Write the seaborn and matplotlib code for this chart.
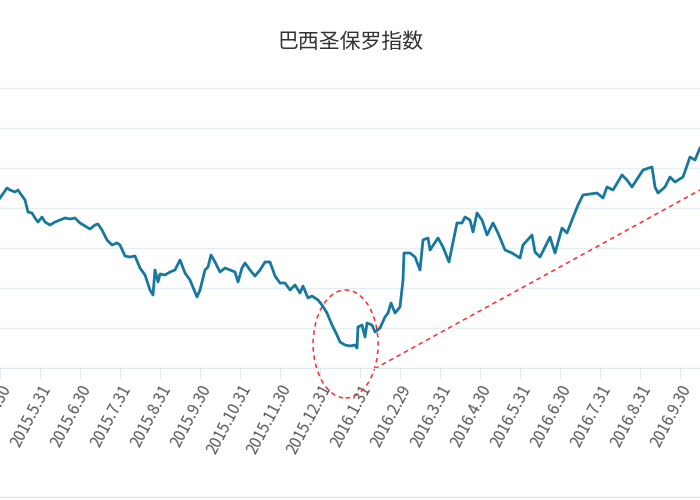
import numpy as np
import pandas as pd
import seaborn as sns
import matplotlib as mpl
from matplotlib import pyplot as plt
from matplotlib import font_manager
from matplotlib.patches import Ellipse

cjk = [f.name for f in font_manager.fontManager.ttflist if 'CJK' in f.name]
mpl.rcParams['font.family'] = ['Noto Sans CJK SC'] + cjk + ['DejaVu Sans']

# months since 2015.4.30 and index level
months = [0.0, 0.175, 0.25, 0.375, 0.45, 0.5, 0.625, 0.7, 0.8, 0.875, 0.95, 1.05, 1.125, 1.25, 1.375,
          1.5, 1.625, 1.75, 1.875, 2.0, 2.125, 2.25, 2.375, 2.45, 2.55, 2.675, 2.8, 2.925, 3.0, 3.125,
          3.25, 3.375, 3.5, 3.625, 3.75, 3.825, 3.875, 3.95, 4.0, 4.125, 4.25, 4.375, 4.5, 4.625, 4.75,
          4.875, 4.925, 5.0, 5.125, 5.2, 5.275, 5.375, 5.5, 5.625, 5.75, 5.875, 5.95, 6.05, 6.125, 6.25,
          6.375, 6.5, 6.625, 6.75, 6.875, 7.0, 7.125, 7.25, 7.375, 7.5, 7.575, 7.7, 7.8, 7.95, 8.05,
          8.175, 8.3, 8.425, 8.5, 8.625, 8.75, 8.875, 8.925, 8.95, 9.05, 9.125, 9.175, 9.3, 9.375, 9.5,
          9.625, 9.7, 9.775, 9.875, 10.0, 10.075, 10.1, 10.25, 10.375, 10.5, 10.575, 10.7, 10.75, 10.95,
          11.075, 11.225, 11.3, 11.425, 11.55, 11.625, 11.75, 11.825, 11.925, 12.05, 12.175, 12.325,
          12.45, 12.625, 12.8, 13.0, 13.075, 13.3, 13.375, 13.5, 13.75, 13.875, 14.05, 14.175, 14.3,
          14.45, 14.575, 14.925, 15.075, 15.175, 15.325, 15.55, 15.675, 15.8, 16.075, 16.3, 16.375,
          16.45, 16.625, 16.75, 16.875, 17.075, 17.25, 17.375, 17.5]
index = [56250, 57500, 57250, 57000, 57250, 56875, 56000, 54500, 54375, 53750, 53250, 53875, 53250, 52875, 53250,
         53500, 53750, 53625, 53750, 53125, 52750, 52375, 52875, 53000, 52250, 51000, 50375, 50625, 50375, 49000,
         48875, 49000, 47500, 46625, 44750, 44125, 47250, 45750, 46750, 46625, 47000, 47250, 48500, 46875, 46000,
         44500, 43875, 44750, 47250, 47625, 49125, 48250, 47000, 47500, 47250, 47000, 45750, 47500, 48125, 47250,
         46500, 47250, 48250, 48250, 46500, 45625, 45625, 44750, 45375, 44375, 45250, 43750, 44000, 43500, 42875,
         41875, 40375, 39125, 38250, 37875, 37750, 37875, 37500, 40125, 40375, 38875, 40625, 40375, 39500, 40000,
         41375, 41875, 43125, 41875, 42625, 46000, 49375, 49375, 48875, 47250, 51000, 51250, 49750, 51250,
         50125, 48250, 50125, 53125, 53125, 53875, 53500, 52000, 54375, 53500, 51625, 53125,
         51875, 49750, 49375, 48750, 50375, 51625, 49500, 48875, 51375, 49375, 52500, 51875, 53500,
         55375, 56625, 56875, 56250, 57625, 57250, 59125, 58500, 57625, 59750, 60125, 57625,
         56875, 57625, 58875, 58250, 58875, 61375, 61000, 62500]

tick_labels = ['2015.4.30', '2015.5.31', '2015.6.30', '2015.7.31', '2015.8.31', '2015.9.30',
               '2015.10.31', '2015.11.30', '2015.12.31', '2016.1.31', '2016.2.29', '2016.3.31',
               '2016.4.30', '2016.5.31', '2016.6.30', '2016.7.31', '2016.8.31', '2016.9.30', '2016.10.31']

trend_x = [8.625, 17.5]
trend_y = [32875, 57250]

df = pd.DataFrame({'month': months, 'index': index})

fig = plt.figure(figsize=(7, 5), dpi=100)
ax = fig.add_axes([0, 132 / 500, 1, 281 / 500])

sns.lineplot(data=df, x='month', y='index', color='#16789f', lw=2, ax=ax)
ax.plot(trend_x, trend_y, color='#ff2a2a', ls=(0, (3, 2.5)), lw=1.1)
ax.add_patch(Ellipse((8.64, 38000), 1.625, 13500, fill=False, ec='#ff2a2a',
                     ls=(0, (3, 2.5)), lw=1.1, clip_on=False))

ax.set_yticks(np.arange(35000, 70001, 5000))
ax.yaxis.grid(True, color='#e4eef5', lw=1)
ax.set_axisbelow(True)
for s in ['left', 'right', 'top']:
    ax.spines[s].set_visible(False)
ax.spines['bottom'].set_color('#dde8f0')
ax.tick_params(axis='y', left=False, labelleft=False)
ax.set_xticks(range(len(tick_labels)))
ax.set_xticklabels(tick_labels, rotation=62, ha='right', rotation_mode='anchor',
                   fontsize=11, color='#555555')
ax.tick_params(axis='x', length=7, color='#dde8f0', pad=3)
ax.set_xlim(0, 17.5)
ax.set_ylim(35000, 70125)
ax.set_xlabel('')
ax.set_ylabel('')

fig.text(0.5, 1 - 42 / 500, '巴西圣保罗指数', ha='center', va='center', fontsize=15, color='#333333')
fig.add_artist(plt.Line2D([0, 1], [0.006, 0.006], color='#e0e0e0', lw=1))

fig.savefig('out.png', dpi=100)
